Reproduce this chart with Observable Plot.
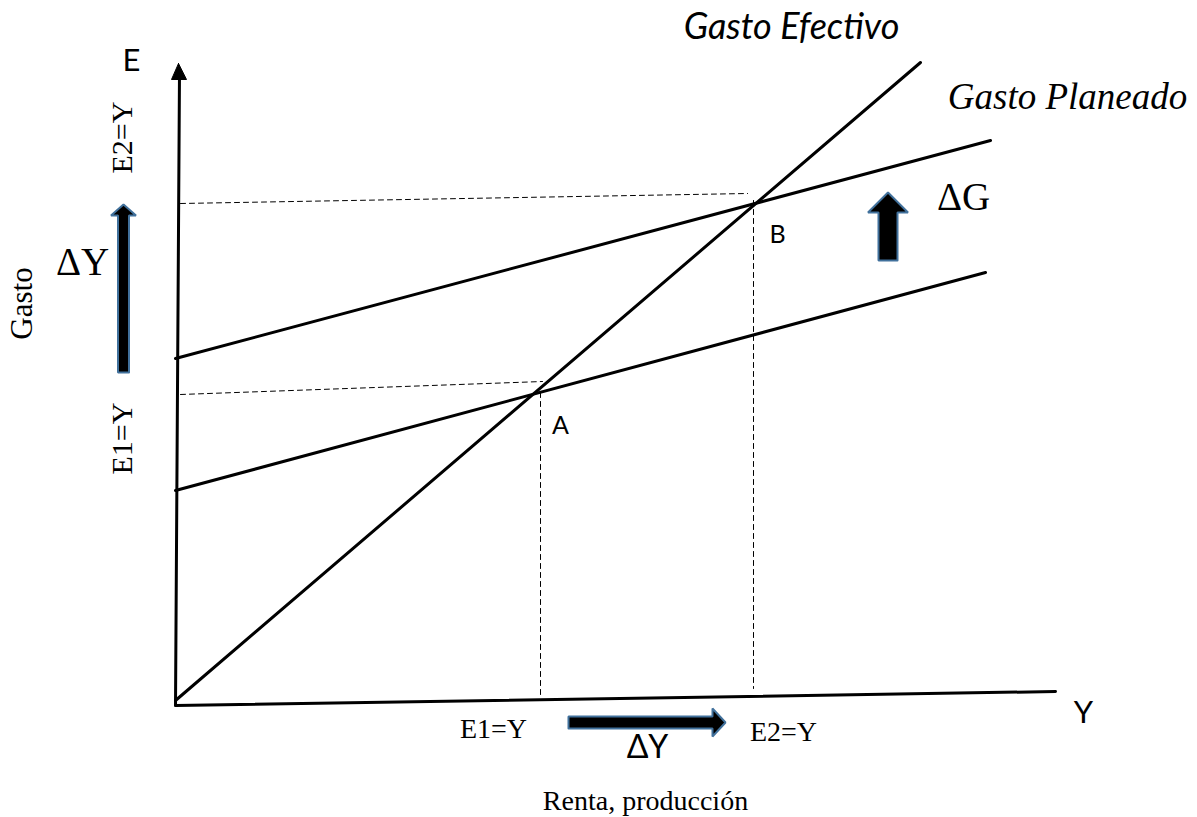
<!DOCTYPE html>
<html><head><meta charset="utf-8">
<script src="https://cdn.jsdelivr.net/npm/d3@7"></script>
<script src="https://cdn.jsdelivr.net/npm/@observablehq/plot@0.6"></script>
<style>html,body{margin:0;padding:0;background:#fff} svg{display:block}</style>
</head><body><div id="chart"></div>
<script>
// Diagram units: origin at the corner of the axes (income Y along x, spending E along y)
const yAxisLine = [{x:0,y:-5},{x:4,y:628}];
const yAxisHead = [{x:3,y:637},{x:-4,y:621},{x:11,y:621},{x:3,y:637}];
const xAxisLine = [{x:0,y:-5},{x:880,y:9}];
const gastoEfectivo = [{x:0,y:0},{x:745,y:638}];
const gastoPlaneado1 = [{x:0,y:210},{x:810,y:428}];
const gastoPlaneado2 = [{x:0,y:342},{x:815,y:560}];
const guideA_h = [{x:5,y:306},{x:367,y:319}];
const guideA_v = [{x:365,y:308},{x:365,y:5}];
const guideB_h = [{x:5,y:497},{x:572,y:507}];
const guideB_v = [{x:578,y:500},{x:578,y:12}];

// Block arrows: base point, tip point, half widths and head length
const arrows = [
  {id:"dYv", x0:-52, y0:328, x1:-52, y1:496, shaft:5.5, head:12.5, len:11},
  {id:"dYh", x0:393, y0:-22, x1:550, y1:-22, shaft:6, head:14, len:13},
  {id:"dG",  x0:712.5, y0:440, x1:712.5, y1:508, shaft:9.5, head:20, len:20}
];

const sansLabels = [
  {text:"E", x:-44, y:639},
  {text:"Y", x:908, y:-13}
];
const pointLabels = [
  {text:"A", x:385, y:275},
  {text:"B", x:602, y:466}
];
const serifLabels = [
  {text:"E1=Y", x:318, y:-29},
  {text:"E2=Y", x:608, y:-32}
];
const serifRotated = [
  {text:"E2=Y", x:-53, y:563},
  {text:"E1=Y", x:-53, y:262}
];
const deltaSerif = [
  {text:"ΔG", x:788, y:503},
  {text:"ΔY", x:-93, y:438}
];
const deltaSans = [{text:"ΔY", x:472, y:-47}];
const titleEfectivo = [{text:"Gasto Efectivo", x:616, y:673}];
const titlePlaneado = [{text:"Gasto Planeado", x:892, y:603}];
const xTitle = [{text:"Renta, producción", x:470, y:-101}];
const yTitle = [{text:"Gasto", x:-153, y:397}];

function arrowPolygon(a) {
  const dx = a.x1 - a.x0, dy = a.y1 - a.y0;
  const L = Math.hypot(dx, dy), ux = dx / L, uy = dy / L, px = -uy, py = ux;
  const hb = L - a.len;
  const pt = (t, s) => ({id: a.id, x: a.x0 + ux * t + px * s, y: a.y0 + uy * t + py * s});
  const p = [pt(0, -a.shaft), pt(hb, -a.shaft), pt(hb, -a.head), pt(L, 0), pt(hb, a.head), pt(hb, a.shaft), pt(0, a.shaft)];
  p.push(p[0]);
  return p;
}
const arrowPts = arrows.flatMap(arrowPolygon);

const serif = "Liberation Serif, Times New Roman, serif";
const sans = "Lato, Liberation Sans, sans-serif";

const chart = Plot.plot({
  width: 1197, height: 817,
  marginTop: 0, marginRight: 0, marginBottom: 0, marginLeft: 0,
  x: {domain: [-175, 1022], axis: null},
  y: {domain: [-117, 700], axis: null},
  style: {background: "#fff"},
  marks: [
    Plot.line(guideA_h, {x:"x", y:"y", stroke:"#000", strokeWidth:1, strokeDasharray:"5,4"}),
    Plot.line(guideA_v, {x:"x", y:"y", stroke:"#000", strokeWidth:1, strokeDasharray:"5,4"}),
    Plot.line(guideB_h, {x:"x", y:"y", stroke:"#000", strokeWidth:1, strokeDasharray:"5,4"}),
    Plot.line(guideB_v, {x:"x", y:"y", stroke:"#000", strokeWidth:1, strokeDasharray:"5,4"}),
    Plot.line(yAxisLine, {x:"x", y:"y", stroke:"#000", strokeWidth:3}),
    Plot.line(yAxisHead, {x:"x", y:"y", stroke:"#000", fill:"#000", strokeWidth:1}),
    Plot.line(xAxisLine, {x:"x", y:"y", stroke:"#000", strokeWidth:3}),
    Plot.line(gastoEfectivo, {x:"x", y:"y", stroke:"#000", strokeWidth:3}),
    Plot.line(gastoPlaneado1, {x:"x", y:"y", stroke:"#000", strokeWidth:3}),
    Plot.line(gastoPlaneado2, {x:"x", y:"y", stroke:"#000", strokeWidth:3}),
    Plot.line(arrowPts, {x:"x", y:"y", z:"id", fill:"#000", stroke:"#41719c", strokeWidth:2, strokeLinejoin:"miter"}),
    Plot.text(sansLabels, {x:"x", y:"y", text:"text", fontFamily:sans, fontSize:31, fill:"#000"}),
    Plot.text(pointLabels, {x:"x", y:"y", text:"text", fontFamily:sans, fontSize:25, fill:"#000"}),
    Plot.text(serifLabels, {x:"x", y:"y", text:"text", fontFamily:serif, fontSize:28, fill:"#000"}),
    Plot.text(serifRotated, {x:"x", y:"y", text:"text", fontFamily:serif, fontSize:30, rotate:-90, fill:"#000"}),
    Plot.text(deltaSerif, {x:"x", y:"y", text:"text", fontFamily:serif, fontSize:39, fill:"#000"}),
    Plot.text(deltaSans, {x:"x", y:"y", text:"text", fontFamily:sans, fontSize:32, fill:"#000"}),
    Plot.text(titleEfectivo, {x:"x", y:"y", text:"text", fontFamily:sans, fontSize:36, fontStyle:"italic", fill:"#000"}),
    Plot.text(titlePlaneado, {x:"x", y:"y", text:"text", fontFamily:serif, fontSize:37, fontStyle:"italic", fill:"#000"}),
    Plot.text(xTitle, {x:"x", y:"y", text:"text", fontFamily:serif, fontSize:28, fill:"#000"}),
    Plot.text(yTitle, {x:"x", y:"y", text:"text", fontFamily:serif, fontSize:31, rotate:-90, fill:"#000"})
  ]
});
document.getElementById("chart").appendChild(chart);
</script>
</body></html>
